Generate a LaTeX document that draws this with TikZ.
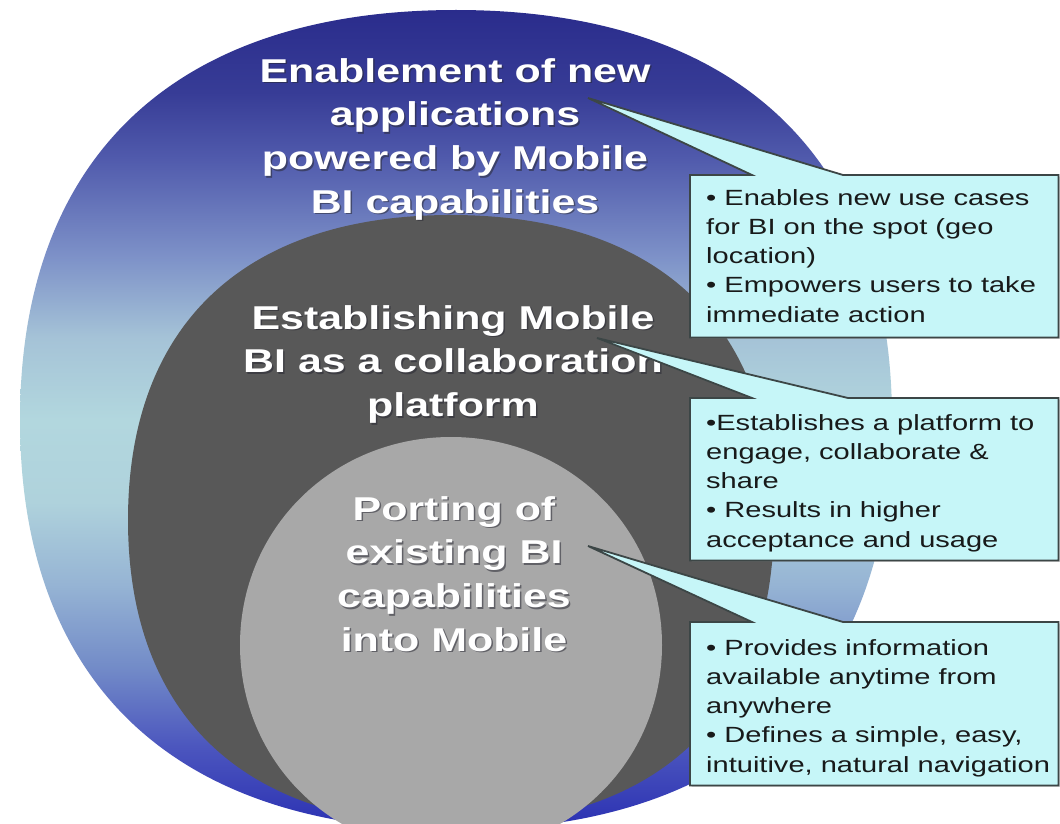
\documentclass[tikz,border=0pt]{standalone}
\usepackage{fontspec}
\setmainfont{Liberation Sans}
\newfontfamily\circfont[FakeStretch=1.3]{Liberation Sans}
\newfontfamily\boxfont[FakeStretch=1.32]{Liberation Sans}
\usetikzlibrary{calc,shadows}
\definecolor{ob25}{RGB}{42,48,178}
\definecolor{ob30}{RGB}{75,85,190}
\definecolor{ob35}{RGB}{115,140,200}
\definecolor{ob40}{RGB}{150,180,212}
\definecolor{ob45}{RGB}{175,210,220}
\definecolor{ob50}{RGB}{178,215,222}
\definecolor{ob55}{RGB}{165,195,215}
\definecolor{ob60}{RGB}{125,145,200}
\definecolor{ob66}{RGB}{80,90,172}
\definecolor{ob70}{RGB}{55,60,150}
\definecolor{ob75}{RGB}{42,44,140}
\definecolor{darkring}{RGB}{88,88,88}
\definecolor{innergray}{RGB}{168,168,168}
\definecolor{boxfill}{RGB}{198,246,248}
\definecolor{boxline}{RGB}{60,70,70}
\definecolor{boxtextcol}{RGB}{24,26,26}
\definecolor{txtshadow}{RGB}{40,40,50}
\pgfdeclareverticalshading{outerblue}{100bp}{color(0bp)=(ob25); color(25bp)=(ob25); color(30bp)=(ob30); color(35bp)=(ob35); color(40bp)=(ob40); color(45bp)=(ob45); color(50bp)=(ob50); color(55bp)=(ob55); color(60bp)=(ob60); color(66bp)=(ob66); color(70bp)=(ob70); color(75bp)=(ob75); color(100bp)=(ob75)}
\begin{document}
\begin{tikzpicture}[x=1pt,y=-1pt,
  blob/.style n args={5}{insert path={
    ({#1-#3},{#2}) .. controls ({#1-#3},{#2-#5*#4}) and ({#1-#5*#3},{#2-#4}) .. ({#1},{#2-#4})
    .. controls ({#1+#5*#3},{#2-#4}) and ({#1+#3},{#2-#5*#4}) .. ({#1+#3},{#2})
    .. controls ({#1+#3},{#2+#5*#4}) and ({#1+#5*#3},{#2+#4}) .. ({#1},{#2+#4})
    .. controls ({#1-#5*#3},{#2+#4}) and ({#1-#3},{#2+#5*#4}) .. ({#1-#3},{#2}) -- cycle}},
  circtext/.style={font=\circfont\bfseries\fontsize{33}{43.7}\selectfont, text=white, align=center, inner sep=0pt, anchor=north},
  circshadow/.style={circtext, text=txtshadow, text opacity=0.55},
  boxarea/.style={inner sep=0pt, anchor=north west, minimum width=368pt, minimum height=162pt},
  callout/.style={fill=boxfill, draw=boxline, line width=1.8pt, line join=miter,
     drop shadow={shadow xshift=1.5pt, shadow yshift=-1.5pt, opacity=0.35}},
  boxtext/.style={font=\boxfont\fontsize{22}{29.25}\selectfont, text=boxtextcol, align=left, inner sep=0pt, anchor=north west}]
\clip (0,0) rectangle (1060,824);
\fill[white] (0,0) rectangle (1060,824);
% rings
\shade[shading=outerblue, blob={456}{420}{436}{410}{0.643}];
\fill[darkring, blob={451}{520}{323}{305}{0.64}];
\fill[innergray, blob={451}{645}{211}{208}{0.56}];
% ring texts (shadow, then text)
\node[circshadow] (s1) at (456.5,59.5) {Enablement of new\\applications\\powered by Mobile\\BI capabilities};
\node[circtext] (t1) at (455,58) {Enablement of new\\applications\\powered by Mobile\\BI capabilities};
\node[circshadow] (s2) at (454.5,306.5) {Establishing Mobile\\BI as a collaboration\\platform};
\node[circtext] (t2) at (453,305) {Establishing Mobile\\BI as a collaboration\\platform};
\node[circshadow] (s3) at (455.5,497.5) {Porting of\\existing BI\\capabilities\\into Mobile};
\node[circtext] (t3) at (454,496) {Porting of\\existing BI\\capabilities\\into Mobile};
% callout boxes
\node[boxarea] (b1) at (690,175) {};
\node[boxarea] (b2) at (690,398) {};
\node[boxarea, minimum height=163pt] (b3) at (690,622) {};
\coordinate (p1) at (588,98);
\coordinate (p2) at (597,338);
\coordinate (p3) at (588,546);
\filldraw[callout] (b1.north west) -- ($(b1.north west)+(62,0)$) -- (p1) -- ($(b1.north west)+(153,0)$) -- (b1.north east) -- (b1.south east) -- (b1.south west) -- cycle;
\filldraw[callout] (b2.north west) -- ($(b2.north west)+(62,0)$) -- (p2) -- ($(b2.north west)+(158,0)$) -- (b2.north east) -- (b2.south east) -- (b2.south west) -- cycle;
\filldraw[callout] (b3.north west) -- ($(b3.north west)+(62,0)$) -- (p3) -- ($(b3.north west)+(153,0)$) -- (b3.north east) -- (b3.south east) -- (b3.south west) -- cycle;
\node[boxtext] (bt1) at (706,189) {• Enables new use cases\\for BI on the spot (geo\\location)\\• Empowers users to take\\immediate action};
\node[boxtext] (bt2) at (706,414) {•Establishes a platform to\\engage, collaborate \&\\share\\• Results in higher\\acceptance and usage};
\node[boxtext] (bt3) at (706,639) {• Provides information\\available anytime from\\anywhere\\• Defines a simple, easy,\\intuitive, natural navigation};
\end{tikzpicture}
\end{document}
